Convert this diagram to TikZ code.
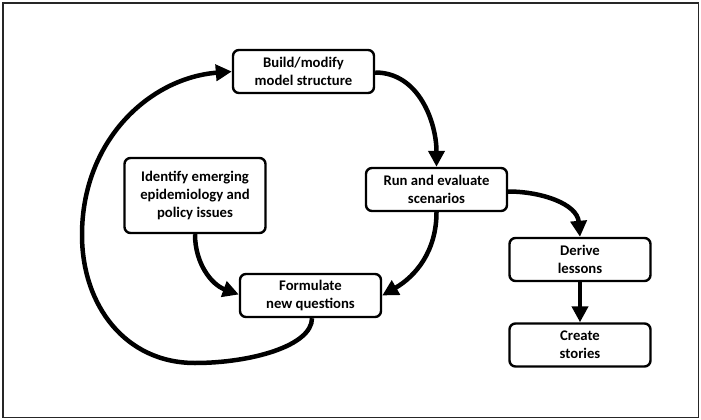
\documentclass[tikz,border=0pt]{standalone}
\usepackage{fontspec}
\setmainfont{Carlito}
\usetikzlibrary{arrows.meta}
\begin{document}
\begin{tikzpicture}[x=1pt,y=-1pt,
  box/.style={draw=black, line width=2.4pt, rounded corners=6pt, fill=white,
    minimum width=141pt, minimum height=43pt, align=center,
    font=\fontsize{14.7}{18}\selectfont\bfseries, inner sep=2pt},
  flow/.style={line width=4.5pt, -{Triangle[length=16pt,width=16pt]}}]
\useasboundingbox (0,0) rectangle (701,420);
\draw[line width=1.5pt, draw=black!85] (3,3) rectangle (698.5,417.5);

\node[box] (build) at (303.5,71.5) {Build/modify\\model structure};
\node[box, minimum height=75pt] (ident) at (195,195.5) {Identify emerging\\epidemiology and\\policy issues};
\node[box] (form) at (310.5,295.5) {Formulate\\new questions};
\node[box] (run) at (436.5,189.5) {Run and evaluate\\scenarios};
\node[box] (derive) at (580,259.5) {Derive\\lessons};
\node[box] (create) at (580,345) {Create\\stories};

\coordinate (lb) at (195,363);
\coordinate (ll) at (82,235);

\draw[flow] ([yshift=-1pt]build.east) to[out=0,in=90] (run.north);
\draw[flow] (run.south) to[out=-90,in=30] (form.east);
\draw[flow] ([yshift=-2pt]run.east) to[out=0,in=95] (derive.north);
\draw[flow] (derive.south) -- (create.north);
\draw[flow] (ident.south) to[out=-90,in=160] ([yshift=1pt]form.west);
\draw[flow] ([xshift=1.5pt]form.south) .. controls +(0,28) and (250,363) .. (lb)
  .. controls (125,363) and (82,305) .. (ll)
  .. controls (82,140) and (150,78) .. (build.west);
\end{tikzpicture}
\end{document}
